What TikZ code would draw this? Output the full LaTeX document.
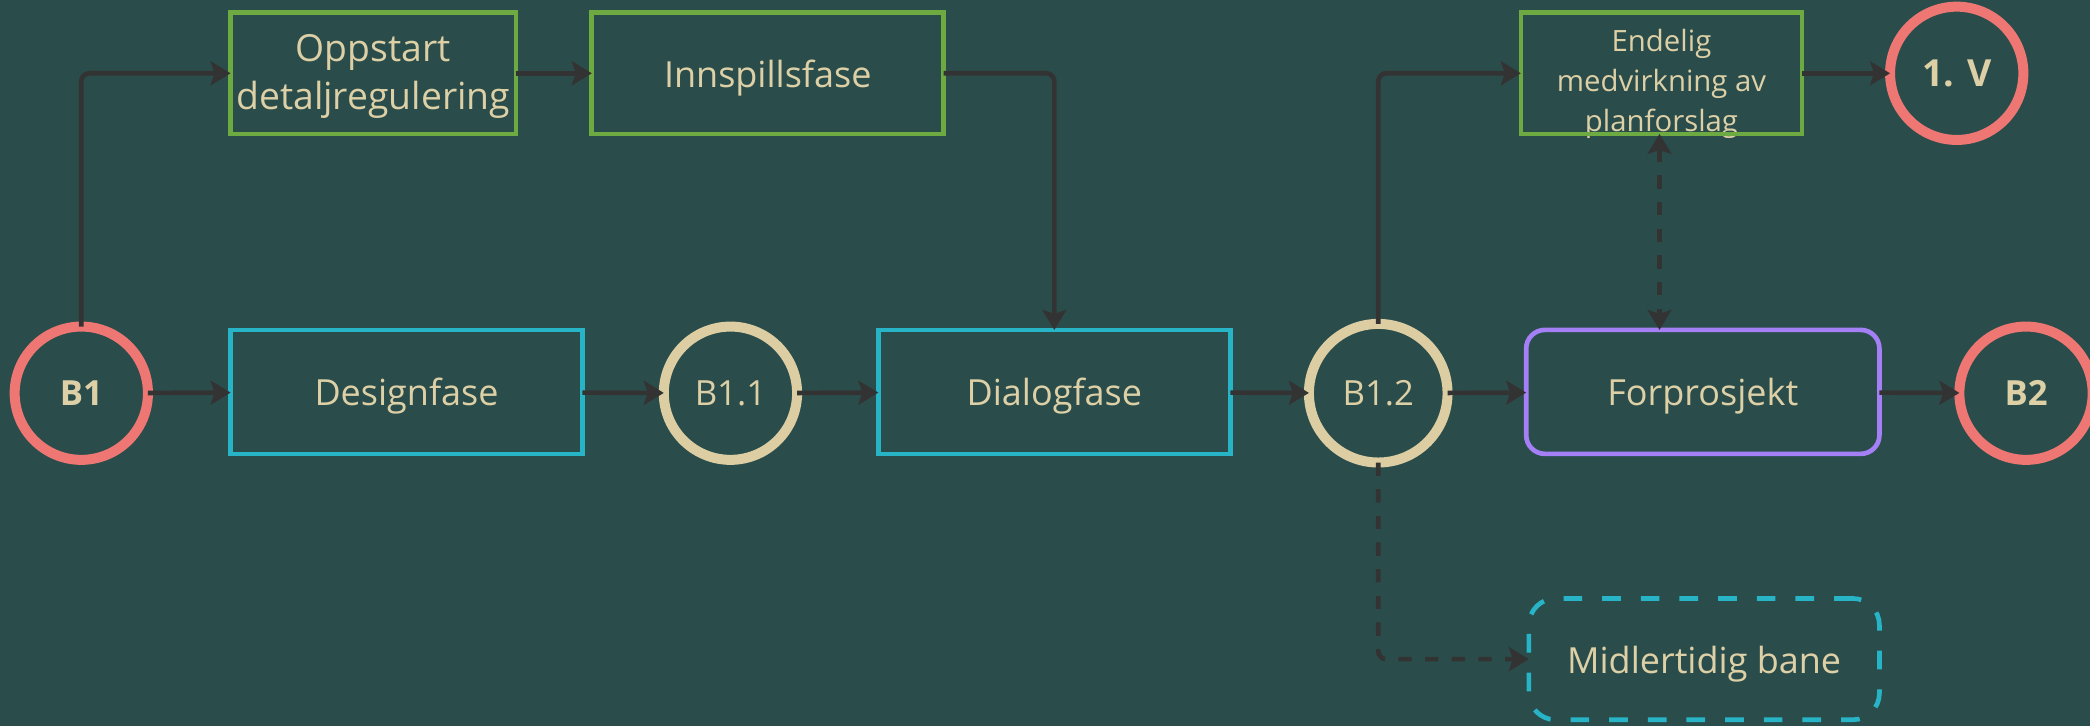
\documentclass[tikz,border=0pt]{standalone}
\usepackage{fontspec}
\setmainfont{Open Sans}
\usetikzlibrary{arrows.meta}
\definecolor{bg}{HTML}{2A4D4B}
\definecolor{txt}{HTML}{DDD0A6}
\definecolor{grn}{HTML}{6DAA42}
\definecolor{cyn}{HTML}{27B4C6}
\definecolor{prp}{HTML}{A57FF5}
\definecolor{redc}{HTML}{EE7673}
\definecolor{bei}{HTML}{DCCDA2}
\definecolor{conn}{HTML}{333333}
\newcommand{\lowtext}[2]{\raisebox{#1}[0pt][0pt]{#2}}
\begin{document}
\begin{tikzpicture}[x=1pt,y=-1pt,
  box/.style={draw, line width=3.5pt, outer sep=0pt, inner sep=0pt, text=txt,
    font=\fontsize{27}{37}\selectfont, align=center, minimum height=93pt},
  greenbox/.style={box, draw=grn},
  cyanbox/.style={box, draw=cyn},
  milestone/.style={circle, draw, line width=7.5pt, outer sep=0pt, inner sep=0pt,
    minimum size=100pt, text=txt},
  redms/.style={milestone, draw=redc, font=\fontsize{26}{30}\selectfont\bfseries},
  beims/.style={milestone, draw=bei, font=\fontsize{26}{30}\selectfont},
  tip/.tip={Stealth[length=15pt,width=18pt,inset=3pt]},
  conn/.style={draw=conn, line width=3.5pt, rounded corners=6pt, -tip},
  dashconn/.style={conn, dash pattern=on 10pt off 10pt}
]
\useasboundingbox (0,0) rectangle (1568,545);
\clip (0,0) rectangle (1568,545);
\fill[bg] (0,0) rectangle (1568,545);

% nodes
\node[redms] (b1) at (61,295) {B1};
\node[cyanbox, minimum width=264pt] (des) at (305,294) {\lowtext{-10.5pt}{Designfase}};
\node[beims] (b11) at (548,295) {B1.1};
\node[cyanbox, minimum width=264pt] (dia) at (791,294) {\lowtext{-10.5pt}{Dialogfase}};
\node[beims, minimum size=104pt] (b12) at (1034,295) {B1.2};
\node[box, draw=prp, rounded corners=14pt, minimum width=265pt] (forp) at (1277.5,294) {\lowtext{-10.5pt}{Forprosjekt}};
\node[redms] (b2) at (1520,295) {B2};

\node[greenbox, minimum width=214pt, minimum height=91pt,
  font=\fontsize{28}{36}\selectfont] (opp) at (280,55) {\lowtext{9pt}{\begin{tabular}[t]{@{}c@{}}Oppstart\\detaljregulering\end{tabular}}};
\node[greenbox, minimum width=264pt, minimum height=91pt] (inn) at (576,55) {\lowtext{-10.5pt}{Innspillsfase}};
\node[greenbox, minimum width=211pt, minimum height=91pt,
  font=\fontsize{22}{30}\selectfont] (end) at (1246.5,55) {\lowtext{16pt}{\begin{tabular}[t]{@{}c@{}}Endelig\\medvirkning av\\planforslag\end{tabular}}};
\draw[grn, line width=3.5pt] (end.north west) rectangle (end.south east);
\node[redms, font=\fontsize{28}{30}\selectfont\bfseries] (v1) at (1468,55) {1. V};

\node[cyanbox, draw=cyn, rounded corners=20pt, dash pattern=on 14pt off 15pt,
  minimum width=263pt, minimum height=91pt] (mid) at (1278.5,494.5) {\lowtext{-11pt}{Midlertidig bane}};

% connectors
\draw[conn] (b1) -- (des);
\draw[conn] (des) -- (b11);
\draw[conn] (b11) -- (dia);
\draw[conn] (dia) -- (b12);
\draw[conn] (b12) -- (forp);
\draw[conn] (forp) -- (b2);
\draw[conn] (b1.north) |- (opp.west);
\draw[conn] (opp) -- (inn);
\draw[conn] (inn.east) -| (dia.north);
\draw[conn] (b12.north) |- (end.west);
\draw[conn] (end) -- (v1);
\draw[dashconn, tip-tip]
  ([xshift=-1.5pt]end.south) -- ([xshift=-1.5pt]end.south |- forp.north);
\draw[dashconn] (b12.south) |- (mid.west);
\end{tikzpicture}
\end{document}
